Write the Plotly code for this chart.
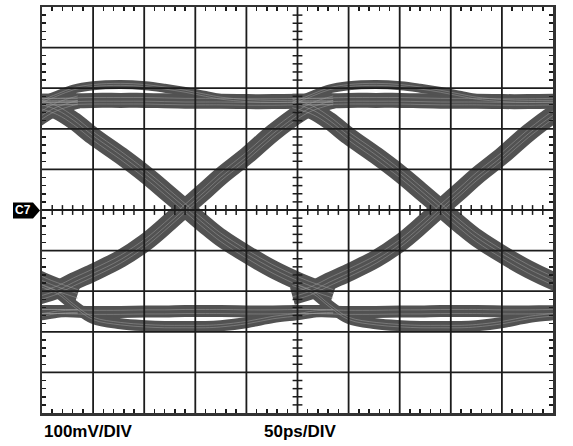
import plotly.graph_objects as go

# ---- data (time in ps, amplitude in mV) ----
UI_PS = 250
EYE_CENTER_PS = 15
T_REL = [-20, 0, 16, 35, 62, 86, 105, 125, 145, 160, 186, 211, 238, 250, 270]

HIGH_FLAT = [268, 268, 269, 270, 270, 270, 269, 268, 268, 268, 267, 267, 268, 268, 268]
LOW_FLAT = [-249, -249, -250, -251, -251, -250, -250, -249, -249, -249, -250, -250, -249, -249, -249]
OVER_ARC = [262, 283, 298, 306, 309, 306, 300, 292, 282, 275, 269, 267, 267, 267, 267]
UNDER_ARC = [-183, -203, -235, -267, -280, -285, -287, -287, -287, -285, -277, -265, -257, -252, -249]
RISING = [-212, -196, -176, -154, -120, -80, -40, 5, 49, 83, 135, 190, 240, 256, 272]
FALLING = [262, 245, 220, 182, 134, 88, 48, 5, -38, -68, -110, -146, -178, -190, -207]

X_RANGE = [0, 500]
Y_RANGE = [-500, 500]
X_DIV = 50
Y_DIV = 100
X_MINOR = 10
Y_MINOR = 20

SEGMENTS = {
    "high": HIGH_FLAT,
    "low": LOW_FLAT,
    "over": OVER_ARC,
    "under": UNDER_ARC,
    "rise": RISING,
    "fall": FALLING,
}
# ---- styles ----
BAND_WIDTH = {"high": 15, "low": 12, "over": 9, "under": 11, "rise": 18, "fall": 18}
TEXTURE_OFFSETS = {"high": [-9, -2, 7], "low": [-6, 4], "over": [-2, 3], "under": [-3, 3],
                   "rise": [-11, -2, 9], "fall": [-10, 1, 11]}
BAND_COLOR = "#525252"
TEXTURE_COLOR = "#a0a0a0"
GRID_COLOR = "#1c1c1c"

fig = go.Figure()
shifts = [-1, 0, 1]

for name, vals in SEGMENTS.items():
    for k in shifts:
        xs = [EYE_CENTER_PS + t + k * UI_PS for t in T_REL]
        fig.add_trace(go.Scatter(x=xs, y=vals, mode="lines",
                                 line=dict(color=BAND_COLOR, width=BAND_WIDTH[name],
                                           shape="spline", smoothing=1.0),
                                 hoverinfo="skip", showlegend=False))
for name, vals in SEGMENTS.items():
    for k in shifts:
        xs = [EYE_CENTER_PS + t + k * UI_PS for t in T_REL]
        for off in TEXTURE_OFFSETS[name]:
            fig.add_trace(go.Scatter(x=xs, y=[v + off for v in vals], mode="lines",
                                     line=dict(color=TEXTURE_COLOR, width=0.6,
                                               shape="spline", smoothing=1.0),
                                     opacity=0.85,
                                     hoverinfo="skip", showlegend=False))

# center-line minor ticks
x_center = (X_RANGE[0] + X_RANGE[1]) / 2
y_center = (Y_RANGE[0] + Y_RANGE[1]) / 2
hx = [x for x in range(X_RANGE[0], X_RANGE[1] + 1, X_MINOR) if x % X_DIV != 0]
vy = [y for y in range(Y_RANGE[0], Y_RANGE[1] + 1, Y_MINOR) if y % Y_DIV != 0]
fig.add_trace(go.Scatter(x=hx, y=[y_center] * len(hx), mode="markers",
                         marker=dict(symbol="line-ns", size=7,
                                     line=dict(width=1.5, color=GRID_COLOR)),
                         hoverinfo="skip", showlegend=False, cliponaxis=False))
fig.add_trace(go.Scatter(x=[x_center] * len(vy), y=vy, mode="markers",
                         marker=dict(symbol="line-ew", size=7,
                                     line=dict(width=1.5, color=GRID_COLOR)),
                         hoverinfo="skip", showlegend=False, cliponaxis=False))

shapes = []
for gx in range(X_RANGE[0] + X_DIV, X_RANGE[1], X_DIV):
    shapes.append(dict(type="line", xref="x", yref="y", x0=gx, x1=gx,
                       y0=Y_RANGE[0], y1=Y_RANGE[1], layer="above",
                       line=dict(color=GRID_COLOR, width=1.8)))
for gy in range(Y_RANGE[0] + Y_DIV, Y_RANGE[1], Y_DIV):
    shapes.append(dict(type="line", xref="x", yref="y", x0=X_RANGE[0], x1=X_RANGE[1],
                       y0=gy, y1=gy, layer="above",
                       line=dict(color=GRID_COLOR, width=1.8)))
# C7 marker
shapes.append(dict(type="path", xref="paper", yref="paper",
                   path="M -0.0568 0.5183 L -0.0176 0.5183 L -0.0039 0.4988 L -0.0176 0.4792 L -0.0568 0.4792 Z",
                   fillcolor="black", line=dict(color="black", width=0), layer="above"))

axis_common = dict(showgrid=False, zeroline=False, showticklabels=False,
                   ticks="", showline=True, linewidth=2.5, linecolor="#333333",
                   mirror="allticks", layer="above traces")
fig.update_layout(
    width=573, height=446,
    margin=dict(l=42, r=20, t=4, b=33),
    paper_bgcolor="white", plot_bgcolor="white",
    xaxis=dict(range=X_RANGE, dtick=X_DIV,
               minor=dict(dtick=X_MINOR, ticks="inside", ticklen=4,
                          tickcolor=GRID_COLOR, tickwidth=1.5, showgrid=False),
               **axis_common),
    yaxis=dict(range=Y_RANGE, dtick=Y_DIV,
               minor=dict(dtick=Y_MINOR, ticks="inside", ticklen=4,
                          tickcolor=GRID_COLOR, tickwidth=1.5, showgrid=False),
               **axis_common),
    shapes=shapes,
    annotations=[
        dict(text="<b>100mV/DIV</b>", xref="paper", yref="paper", x=0.0, y=-0.045,
             xanchor="left", yanchor="middle", showarrow=False,
             font=dict(family="Liberation Sans, Arial", size=17, color="black")),
        dict(text="<b>50ps/DIV</b>", xref="paper", yref="paper", x=0.505, y=-0.045,
             xanchor="center", yanchor="middle", showarrow=False,
             font=dict(family="Liberation Sans, Arial", size=17, color="black")),
        dict(text="<b>C7</b>", xref="paper", yref="paper", x=-0.037, y=0.4988,
             xanchor="center", yanchor="middle", showarrow=False,
             font=dict(family="Liberation Sans, Arial", size=12, color="white")),
    ],
)
fig.write_html("out.html", config={"displayModeBar": False, "staticPlot": True},
               post_script="document.body.style.margin='0';document.body.style.padding='0';document.body.style.overflow='hidden';")
